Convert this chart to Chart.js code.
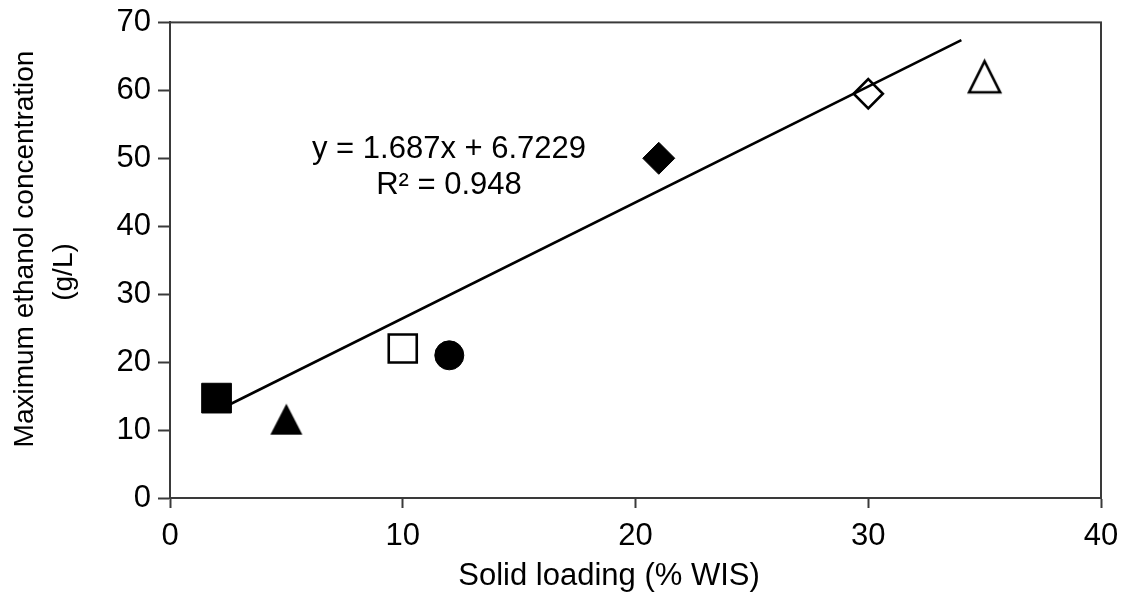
<!DOCTYPE html>
<html>
<head>
<meta charset="utf-8">
<style>
  html, body { margin: 0; padding: 0; background: #ffffff; }
  #wrap { width: 1126px; height: 594px; }
</style>
<script src="https://cdn.jsdelivr.net/npm/chart.js@4.4.1/dist/chart.umd.min.js"></script>
</head>
<body>
<div id="wrap"><canvas id="c" width="1126" height="594"></canvas></div>
<script>
// ---- data ----
const solidLoading = [2, 5, 10, 12, 21, 30, 35];          // % WIS
const ethanolConc  = [14.7, 11.6, 22, 21, 50, 59.5, 62];  // g/L
const trendX = [2, 34];
const trendY = [12.8, 67.4];
const xTickValues = [0, 10, 20, 30, 40];
const yTickValues = [0, 10, 20, 30, 40, 50, 60, 70];
const xTitle = 'Solid loading (% WIS)';
const yTitleLines = ['Maximum ethanol concentration', '(g/L)'];
const equationLines = ['y = 1.687x + 6.7229', 'R\u00B2 = 0.948'];

// ---- marker drawing helpers (styles only) ----
function triangleCanvas(w, h, filled, lw) {
  const pad = Math.ceil(lw) + 1;
  const cv = document.createElement('canvas');
  cv.width = Math.ceil(w + 2 * pad);
  cv.height = Math.ceil(h + 2 * pad);
  const g = cv.getContext('2d');
  const cx = cv.width / 2, cy = cv.height / 2;
  g.beginPath();
  g.moveTo(cx, cy - h / 2);
  g.lineTo(cx + w / 2, cy + h / 2);
  g.lineTo(cx - w / 2, cy + h / 2);
  g.closePath();
  g.lineJoin = 'miter';
  if (filled) {
    g.fillStyle = '#000';
    g.fill();
  } else {
    g.fillStyle = '#fff';
    g.fill();
    g.lineWidth = lw;
    g.strokeStyle = '#000';
    g.stroke();
  }
  return cv;
}
const filledTri = triangleCanvas(32, 31, true, 1);
const openTri = triangleCanvas(31, 31, false, 2.6);

const pointStyles = ['rect', filledTri, 'rect', 'circle', 'rectRot', 'rectRot', openTri];
const pointRadii  = [21, 16, 19.8, 14.5, 16, 14.6, 16];
const pointFills  = ['#000', '#000', '#fff', '#000', '#000', '#fff', '#fff'];
const pointBorderW = [1, 1, 2.6, 1, 1, 2.6, 1];

const FONT = "'Liberation Sans', Arial, sans-serif";

const framePlugin = {
  id: 'frame',
  afterDraw(chart) {
    const ctx = chart.ctx;
    const a = chart.chartArea;
    ctx.save();
    ctx.strokeStyle = '#3a3a3a';
    ctx.lineWidth = 2;
    ctx.strokeRect(a.left, a.top, a.right - a.left, a.bottom - a.top);

    ctx.fillStyle = '#000';
    // equation annotation
    ctx.font = '31px ' + FONT;
    ctx.textAlign = 'center';
    ctx.textBaseline = 'alphabetic';
    ctx.fillText(equationLines[0], 449, 158);
    ctx.fillText(equationLines[1], 449, 194);

    // x title
    ctx.font = '31px ' + FONT;
    ctx.fillText(xTitle, 609, 585);

    // y title (rotated)
    ctx.font = '28px ' + FONT;
    ctx.save();
    ctx.translate(33, 249);
    ctx.rotate(-Math.PI / 2);
    ctx.fillText(yTitleLines[0], 0, 0);
    ctx.restore();
    ctx.save();
    ctx.translate(72, 272);
    ctx.rotate(-Math.PI / 2);
    ctx.fillText(yTitleLines[1], 0, 0);
    ctx.restore();
    ctx.restore();
  }
};

new Chart(document.getElementById('c'), {
  type: 'scatter',
  data: {
    datasets: [
      {
        label: 'Trend',
        type: 'line',
        data: trendX.map((x, i) => ({ x: x, y: trendY[i] })),
        borderColor: '#000',
        borderWidth: 2.6,
        pointRadius: 0,
        fill: false,
        tension: 0,
        order: 0
      },
      {
        label: 'Data',
        data: solidLoading.map((x, i) => ({ x: x, y: ethanolConc[i] })),
        pointStyle: pointStyles,
        pointRadius: pointRadii,
        pointHoverRadius: pointRadii,
        backgroundColor: pointFills,
        borderColor: '#000',
        borderWidth: pointBorderW,
        order: 1
      }
    ]
  },
  options: {
    responsive: false,
    animation: false,
    devicePixelRatio: 1,
    layout: { padding: { left: 0, top: 22, right: 25, bottom: 0 } },
    plugins: {
      legend: { display: false },
      tooltip: { enabled: false }
    },
    scales: {
      x: {
        type: 'linear',
        min: 0, max: 40,
        afterBuildTicks(scale) { scale.ticks = xTickValues.map(v => ({ value: v })); },
        afterFit(scale) {
          scale.height = 96;
          scale.paddingLeft = 0; scale.paddingRight = 0;
          scale.paddingTop = 0; scale.paddingBottom = 0;
        },
        grid: { drawOnChartArea: false, tickLength: 10, color: '#3a3a3a', tickWidth: 2 },
        border: { color: '#3a3a3a', width: 2 },
        ticks: { font: { family: FONT, size: 31 }, color: '#000', padding: 10, maxRotation: 0 }
      },
      y: {
        type: 'linear',
        min: 0, max: 70,
        afterBuildTicks(scale) { scale.ticks = yTickValues.map(v => ({ value: v })); },
        afterFit(scale) {
          scale.width = 170;
          scale.paddingLeft = 0; scale.paddingRight = 0;
          scale.paddingTop = 0; scale.paddingBottom = 0;
        },
        grid: { drawOnChartArea: false, tickLength: 12, color: '#3a3a3a', tickWidth: 2 },
        border: { color: '#3a3a3a', width: 2 },
        ticks: { font: { family: FONT, size: 31 }, color: '#000', padding: 7 }
      }
    }
  },
  plugins: [framePlugin]
});
</script>
</body>
</html>
